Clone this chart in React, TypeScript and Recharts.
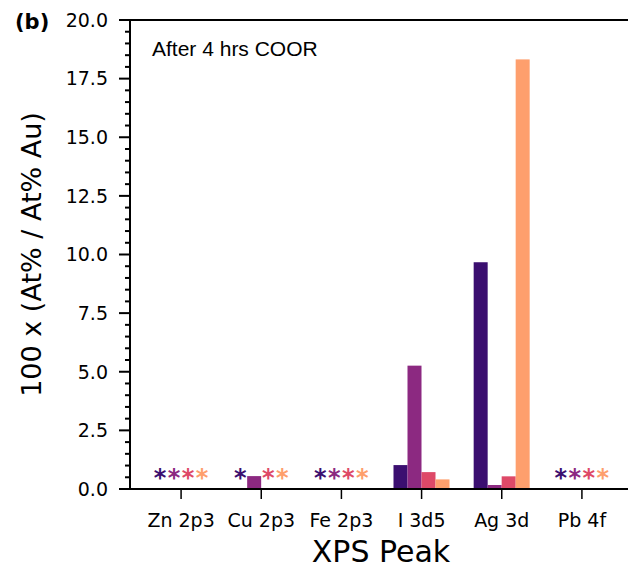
import { BarChart, Bar, XAxis, YAxis, ReferenceLine } from 'recharts'

// XPS peaks and normalized atomic ratios (null = not detected, drawn as *)
const PEAKS = ['Zn 2p3', 'Cu 2p3', 'Fe 2p3', 'I 3d5', 'Ag 3d', 'Pb 4f']
const SERIES_1 = [null, null, null, 1.02, 9.67, null]
const SERIES_2 = [null, 0.55, null, 5.26, 0.17, null]
const SERIES_3 = [null, null, null, 0.72, 0.54, null]
const SERIES_4 = [null, null, null, 0.41, 18.32, null]
const Y_MAJOR = [0, 2.5, 5, 7.5, 10, 12.5, 15, 17.5, 20]
const Y_MINOR_STEP = 0.5

const COLORS = ['#3b0f70', '#8c2981', '#de4968', '#fe9f6d']
const KEYS = ['s1', 's2', 's3', 's4']
const FONT = '"DejaVu Sans", sans-serif'

// missing values sit at 0 so the bar slot exists and can carry its asterisk
const data = PEAKS.map((peak, i) => ({
  peak,
  s1: SERIES_1[i] ?? 0,
  s2: SERIES_2[i] ?? 0,
  s3: SERIES_3[i] ?? 0,
  s4: SERIES_4[i] ?? 0,
}))

const yTicks: number[] = []
for (let v = 0; v <= Y_MAJOR[Y_MAJOR.length - 1] + 1e-9; v += Y_MINOR_STEP) {
  yTicks.push(Math.round(v * 10) / 10)
}

function isMajor(v: number) {
  return Y_MAJOR.some((m) => Math.abs(m - v) < 1e-6)
}

function YTick(props: any) {
  const x = Number(props.x)
  const y = Number(props.y)
  const v = props.payload.value
  if (!isMajor(v)) return <g />
  return (
    <text x={x - 22} y={y} dy="0.36em" textAnchor="end" fontSize={19} fontFamily={FONT} fill="#000">
      {v.toFixed(1)}
    </text>
  )
}

// short outward tick mark at the left spine, positioned by the y scale
function tickShape(len: number) {
  return (p: any) => {
    const x1 = Number(p.x1)
    const y1 = Number(p.y1)
    return <line x1={x1 - len} x2={x1} y1={y1} y2={y1} stroke="#000" strokeWidth={2} />
  }
}

function XTick(props: any) {
  const x = Number(props.x)
  const y = Number(props.y)
  return (
    <g>
      <line x1={x} x2={x} y1={y} y2={y + 10} stroke="#000" strokeWidth={1.5} />
      <text x={x} y={y + 38} textAnchor="middle" fontSize={19} fontFamily={FONT} fill="#000">
        {props.payload.value}
      </text>
    </g>
  )
}

// bar, or an asterisk in its slot when the peak was not detected
function BarOrStar(props: any) {
  const { x, y, width, height, fill, value } = props
  const v = Array.isArray(value) ? value[1] : value
  if (v === 0) {
    return (
      <text x={x + width / 2} y={y - 3.5} textAnchor="middle" fontSize={24} fontWeight="bold" fontFamily={FONT} fill={fill}>
        *
      </text>
    )
  }
  return <rect x={x} y={y} width={width} height={Math.max(height, 0)} fill={fill} />
}

function YLabel({ viewBox }: any) {
  const cx = viewBox.x + 31
  const cy = viewBox.y + viewBox.height / 2
  return (
    <text
      x={cx}
      y={cy}
      transform={`rotate(-90 ${cx} ${cy})`}
      textAnchor="middle"
      dominantBaseline="central"
      fontSize={27}
      fontFamily={FONT}
      fill="#000"
    >
      100 x (At% / At% Au)
    </text>
  )
}

function XLabel({ viewBox }: any) {
  return (
    <text
      x={viewBox.x + viewBox.width / 2}
      y={viewBox.y + 73}
      textAnchor="middle"
      fontSize={30}
      fontFamily={FONT}
      fill="#000"
    >
      XPS Peak
    </text>
  )
}

export default function App() {
  return (
    <div style={{ position: 'absolute', left: 0, top: 0, width: 628, height: 569, overflow: 'hidden', background: '#fff' }}>
      <BarChart
        width={640}
        height={569}
        data={data}
        margin={{ top: 20, right: 8, left: 0, bottom: 0 }}
        barCategoryGap={12}
        barGap={0}
      >
        <XAxis
          dataKey="peak"
          height={80}
          padding={{ left: 11, right: 10 }}
          axisLine={{ stroke: '#000', strokeWidth: 2 }}
          tickLine={false}
          tickSize={0}
          tickMargin={0}
          interval={0}
          tick={<XTick />}
          label={<XLabel />}
        />
        <YAxis
          width={130}
          domain={[0, 20]}
          ticks={yTicks}
          interval={0}
          tickSize={0}
          tickMargin={0}
          tickLine={false}
          axisLine={{ stroke: '#000', strokeWidth: 2 }}
          tick={<YTick />}
          label={<YLabel />}
        />
        {yTicks.map((v) => (
          <ReferenceLine
            key={`t${v}`}
            y={v}
            ifOverflow="visible"
            stroke="#000"
            shape={tickShape(isMajor(v) ? 11 : 5)}
          />
        ))}
        <ReferenceLine y={20} stroke="#000" strokeWidth={2} />
        {KEYS.map((k, i) => (
          <Bar key={k} dataKey={k} fill={COLORS[i]} isAnimationActive={false} shape={<BarOrStar />} />
        ))}
      </BarChart>
      <svg
        width={628}
        height={569}
        style={{ position: 'absolute', left: 0, top: 0, pointerEvents: 'none' }}
      >
        <text x={15} y={29} fontSize={21} fontWeight="bold" fontFamily={FONT} fill="#000">
          (b)
        </text>
        <text x={152} y={56} fontSize={21} fontFamily='"Liberation Sans", Arial, sans-serif' fill="#000">
          After 4 hrs COOR
        </text>
      </svg>
    </div>
  )
}
